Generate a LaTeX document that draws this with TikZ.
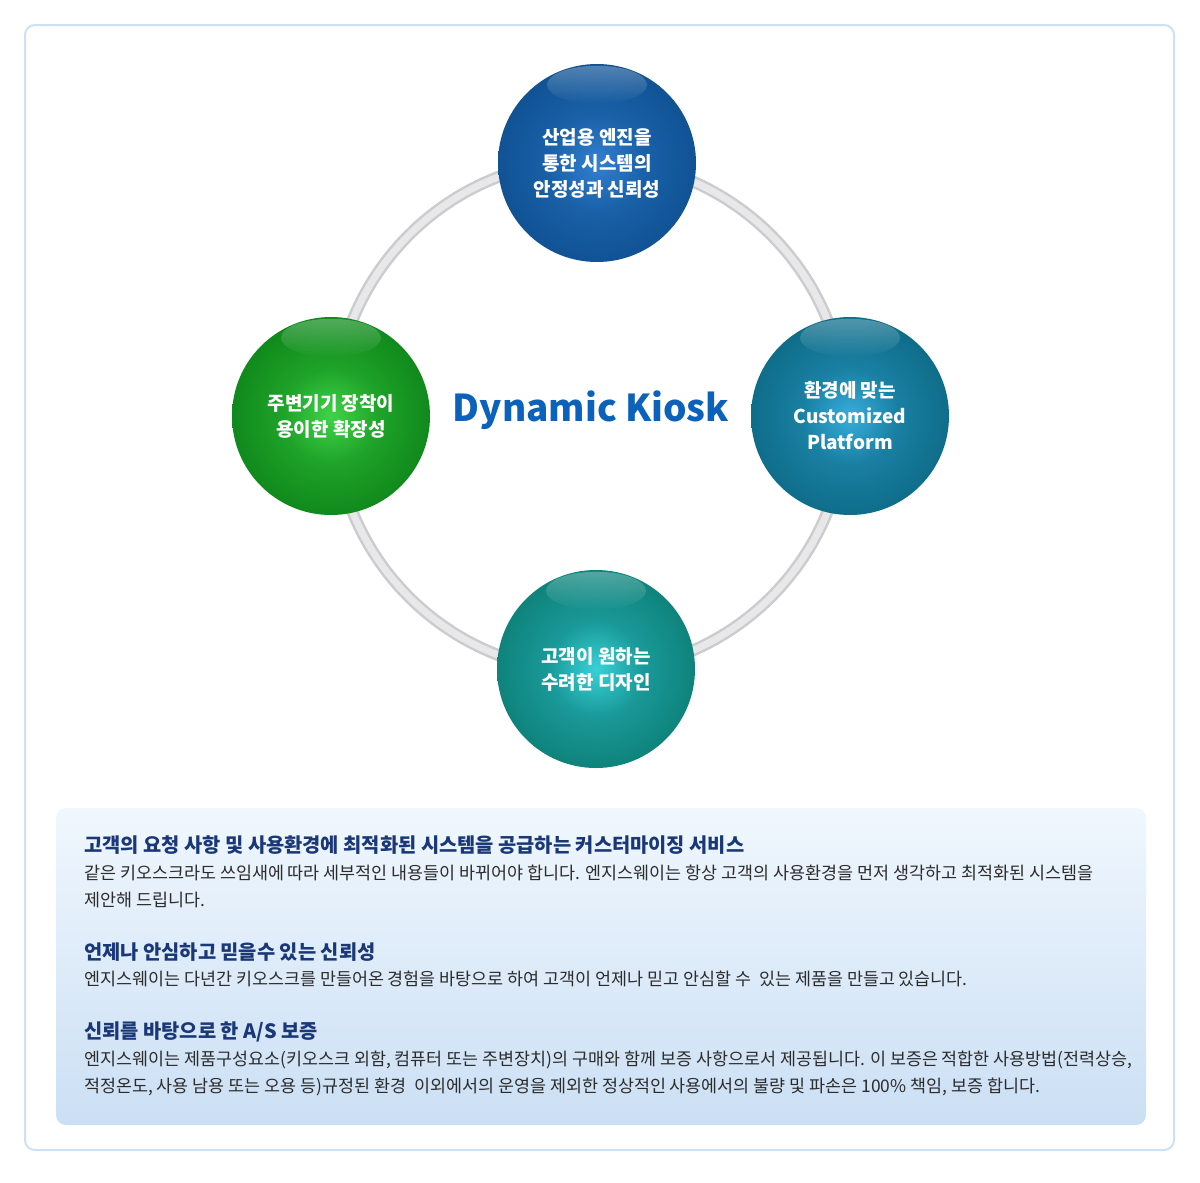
\documentclass[tikz,border=0pt]{standalone}
\usepackage{fontspec}
\setmainfont{Noto Sans CJK KR}
\usepackage{tikz}
\usetikzlibrary{positioning,calc,fadings}

\definecolor{headnavy}{RGB}{26,56,120}
\definecolor{bodygray}{RGB}{44,44,44}
\definecolor{kioskblue}{RGB}{12,98,186}
\definecolor{framecol}{RGB}{206,224,244}
\definecolor{boxtop}{RGB}{240,247,254}
\definecolor{boxbot}{RGB}{203,223,244}
\definecolor{ringedge}{RGB}{204,204,206}
\definecolor{ringmid}{RGB}{232,232,234}

\pgfdeclareradialshading{ballblue}{\pgfpoint{0bp}{0bp}}{rgb(0bp)=(0.20,0.50,0.82);rgb(12bp)=(0.10,0.38,0.66);rgb(30bp)=(0.05,0.30,0.55);rgb(50bp)=(0.03,0.25,0.46)}
\pgfdeclareradialshading{ballteal}{\pgfpoint{0bp}{0bp}}{rgb(0bp)=(0.22,0.68,0.86);rgb(12bp)=(0.10,0.50,0.64);rgb(30bp)=(0.04,0.40,0.50);rgb(50bp)=(0.02,0.34,0.43)}
\pgfdeclareradialshading{ballsea}{\pgfpoint{0bp}{0bp}}{rgb(0bp)=(0.22,0.82,0.84);rgb(12bp)=(0.10,0.60,0.60);rgb(30bp)=(0.04,0.48,0.44);rgb(50bp)=(0.02,0.42,0.38)}
\pgfdeclareradialshading{ballgreen}{\pgfpoint{0bp}{0bp}}{rgb(0bp)=(0.25,0.83,0.28);rgb(12bp)=(0.12,0.64,0.16);rgb(30bp)=(0.04,0.50,0.09);rgb(50bp)=(0.02,0.43,0.07)}

\begin{document}
\begin{tikzpicture}[x=1pt,y=-1pt,
  ball/.style={circle,minimum size=198pt,inner sep=0pt,align=center,text=white,
    font=\fontsize{19}{26}\selectfont\bfseries},
  gloss/.style={white,fill opacity=0.28,path fading=south},
  heading/.style={anchor=base west,inner sep=0pt,text=headnavy,font=\fontsize{19.8}{26}\selectfont\bfseries},
  bodyline/.style={anchor=base west,inner sep=0pt,text=bodygray,font=\fontsize{17.4}{27}\selectfont}]
  \useasboundingbox (0,0) rectangle (1200,1183);
  % outer frame
  \draw[framecol,line width=2pt,rounded corners=10pt] (25,25) rectangle (1174,1150);
  % ring
  \draw[ringedge,line width=12pt] (590,416) circle (256);
  \draw[ringmid,line width=7pt] (590,416) circle (256);
  % spheres
  \node[ball,shading=ballblue] (top) at (597,163) {산업용 엔진을\\통한 시스템의\\안정성과 신뢰성};
  \node[ball,shading=ballteal] (right) at (850,416) {환경에 맞는\\Customized\\Platform};
  \node[ball,shading=ballsea] (bottom) at (596,669) {고객이 원하는\\수려한 디자인};
  \node[ball,shading=ballgreen] (left) at (331,416) {주변기기 장착이\\용이한 확장성};
  \foreach \n in {top,right,bottom,left}
    \fill[gloss] ($(\n.north)+(0,21)$) ellipse (50 and 19);
  \node[anchor=base,inner sep=0pt,text=kioskblue,font=\fontsize{37}{40}\selectfont\bfseries] (title) at (591,421) {Dynamic Kiosk};
  % text box
  \shade[top color=boxtop,bottom color=boxbot,rounded corners=10pt] (56,808) rectangle (1146,1125);
  \node[heading] (h1) at (84,852) {고객의 요청 사항 및 사용환경에 최적화된 시스템을 공급하는 커스터마이징 서비스};
  \node[bodyline] (b11) at (84,879) {같은 키오스크라도 쓰임새에 따라 세부적인 내용들이 바뀌어야 합니다. 엔지스웨이는 항상 고객의 사용환경을 먼저 생각하고 최적화된 시스템을};
  \node[bodyline] (b12) at (84,906) {제안해 드립니다.};
  \node[heading] (h2) at (84,959) {언제나 안심하고 믿을수 있는 신뢰성};
  \node[bodyline] (b21) at (84,985) {엔지스웨이는 다년간 키오스크를 만들어온 경험을 바탕으로 하여 고객이 언제나 믿고 안심할 수\ \ 있는 제품을 만들고 있습니다.};
  \node[heading] (h3) at (84,1038) {신뢰를 바탕으로 한 A/S 보증};
  \node[bodyline] (b31) at (84,1065) {엔지스웨이는 제품구성요소(키오스크 외함, 컴퓨터 또는 주변장치)의 구매와 함께 보증 사항으로서 제공됩니다. 이 보증은 적합한 사용방법(전력상승,};
  \node[bodyline] (b32) at (84,1092) {적정온도, 사용 남용 또는 오용 등)규정된 환경\ \ 이외에서의 운영을 제외한 정상적인 사용에서의 불량 및 파손은 100\% 책임, 보증 합니다.};
\end{tikzpicture}
\end{document}
